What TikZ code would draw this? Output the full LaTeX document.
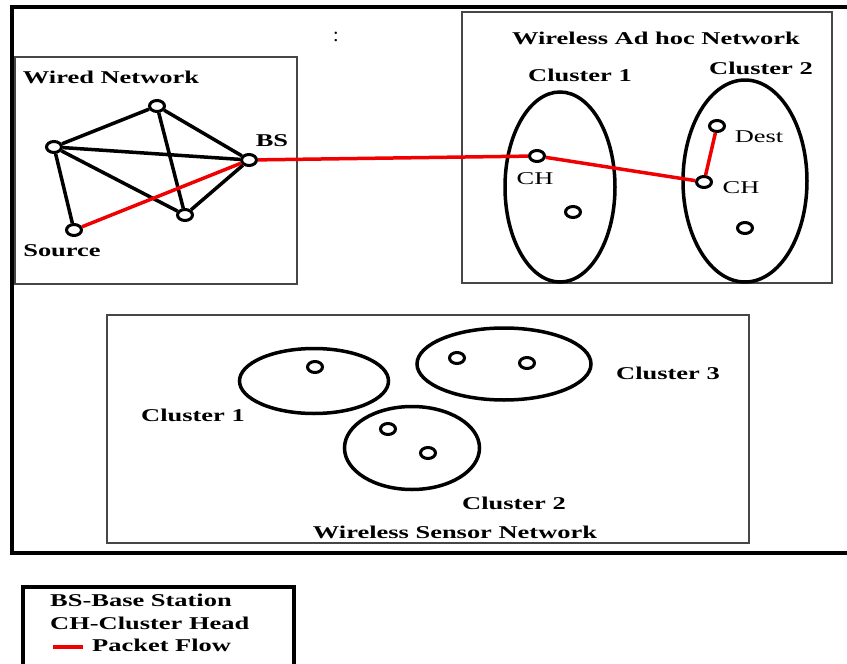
\documentclass[tikz,border=0pt]{standalone}
\usepackage{fontspec}
\setmainfont{Liberation Serif}
\newfontfamily\lblfont[FakeStretch=1.47]{Liberation Serif}
\usetikzlibrary{shapes.geometric}
\definecolor{boxgray}{RGB}{70,70,70}
\definecolor{flowred}{RGB}{240,0,0}
\begin{document}
\begin{tikzpicture}[x=1pt,y=-1pt,
  lbl/.style={inner sep=0pt,font=\lblfont\fontsize{18}{20}\selectfont\bfseries},
  lblr/.style={inner sep=0pt,font=\lblfont\fontsize{18}{20}\selectfont},
  pt/.style={draw,ellipse,fill=white,line width=3pt,minimum width=15pt,minimum height=11pt,inner sep=0pt},
  frame/.style={draw,line width=4.5pt},
  netbox/.style={draw=boxgray,line width=1.5pt},
  cluster/.style={draw,line width=3.5pt},
  link/.style={line width=3.5pt},
  flow/.style={draw=flowred,line width=3.5pt}]
\useasboundingbox (0,0) rectangle (847,664);
\fill[white] (0,0) rectangle (847,664);
% frames
\draw[frame] (12,7) rectangle (855,553);
\draw[netbox] (15,57) rectangle (297,284);
\draw[netbox] (462,12) rectangle (832,283);
\draw[netbox] (107,315) rectangle (749,543);
\draw[frame] (23,587) rectangle (294,680);
\node[inner sep=0pt,font=\fontsize{20}{20}\selectfont] (colon) at (336,37) {:};
% wired network
\node[lbl] (wiredT) at (111,77) {Wired Network};
\node[pt] (w1) at (54,147) {};
\node[pt] (w2) at (157,106) {};
\node[pt] (bs) at (249,160) {};
\node[pt] (w4) at (185,215) {};
\node[pt] (src) at (74,230) {};
\node[lbl] (bsT) at (272,141) {BS};
\node[lbl] (srcT) at (62,251) {Source};
\draw[link] (w1) -- (w2);
\draw[link] (w1) -- (bs);
\draw[link] (w1) -- (w4);
\draw[link] (w1) -- (src);
\draw[link] (w2) -- (bs);
\draw[link] (w2) -- (w4);
\draw[link] (w4) -- (bs);
% ad hoc network
\node[lbl] (adhocT) at (656,38) {Wireless Ad hoc Network};
\node[lbl] (ac1T) at (580,75) {Cluster 1};
\node[lbl] (ac2T) at (761,68) {Cluster 2};
\node[cluster,ellipse,minimum width=110pt,minimum height=190pt,inner sep=0pt] (ac1) at (560,187) {};
\node[cluster,ellipse,minimum width=124pt,minimum height=202pt,inner sep=0pt] (ac2) at (745,181) {};
\node[pt] (ch1) at (537,156) {};
\node[pt] (a1) at (573,212) {};
\node[pt] (dest) at (717,126) {};
\node[pt] (ch2) at (704,182) {};
\node[pt] (a2) at (745,228) {};
\node[lblr] (ch1T) at (535,179) {CH};
\node[lblr] (destT) at (759,137) {Dest};
\node[lblr] (ch2T) at (741,188) {CH};
% packet flow
\draw[flow] (src) -- (bs);
\draw[flow] (bs) -- (ch1);
\draw[flow] (ch1) -- (ch2);
\draw[flow] (ch2) -- (dest);
% sensor network
\node[cluster,ellipse,minimum width=149pt,minimum height=65pt,inner sep=0pt] (s1) at (314,381) {};
\node[cluster,ellipse,minimum width=174pt,minimum height=72pt,inner sep=0pt] (s3) at (504,364) {};
\node[cluster,ellipse,minimum width=135pt,minimum height=83pt,inner sep=0pt] (s2) at (412,448) {};
\node[pt] (s1a) at (315,367) {};
\node[pt] (s3a) at (457,358) {};
\node[pt] (s3b) at (527,363) {};
\node[pt] (s2a) at (388,429) {};
\node[pt] (s2b) at (428,453) {};
\node[lbl] (s1T) at (193,415) {Cluster 1};
\node[lbl] (s3T) at (668,373) {Cluster 3};
\node[lbl] (s2T) at (514,503) {Cluster 2};
\node[lbl] (wsnT) at (455,532) {Wireless Sensor Network};
% legend
\node[lbl,anchor=west] (leg1) at (50,600) {BS-Base Station};
\node[lbl,anchor=west] (leg2) at (50,623) {CH-Cluster Head};
\coordinate (lf1) at (53,647);
\coordinate (lf2) at (83,647);
\draw[flow] (lf1) -- (lf2);
\node[lbl,anchor=west] (leg3) at (92,645) {Packet Flow};
\end{tikzpicture}
\end{document}
